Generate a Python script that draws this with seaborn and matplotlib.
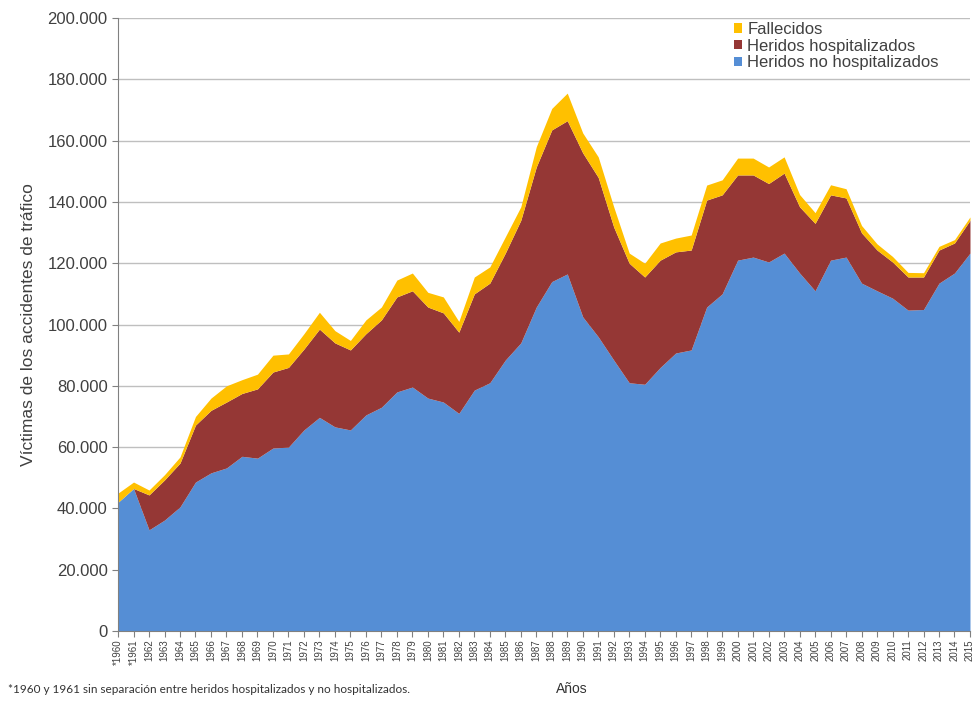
import matplotlib.pyplot as plt
import matplotlib.ticker as mticker
import numpy as np
import seaborn as sns

# Data (victims per year)
years = list(range(1960, 2016))
year_labels = ['*1960', '*1961'] + [str(y) for y in range(1962, 2016)]

no_hospitalizados = [
    42000, 46500, 33000, 36200, 40500, 48600, 51600, 53200, 57000, 56400,
    59700, 60000, 65600, 69700, 66600, 65600, 70500, 73000, 78000, 79600,
    76000, 74700, 71000, 78600, 81000, 88400, 94000, 105700, 114000, 116500,
    102500, 96000, 88400, 81000, 80500, 86000, 90700, 91700, 105700, 110000,
    121000, 122000, 120400, 123300, 116800, 111000, 121000, 122000, 113500, 111000,
    108600, 104700, 104900, 113500, 116800, 123300]

hospitalizados = [
    0, 0, 11400, 13100, 14300, 18600, 20400, 21500, 20500, 22600,
    24800, 26000, 26400, 28800, 27400, 26100, 26500, 28500, 31000, 31400,
    29700, 29100, 26500, 31400, 32500, 34900, 40000, 45700, 49500, 50000,
    53500, 52000, 43400, 39000, 35000, 35000, 33000, 32600, 34900, 32300,
    27800, 26800, 25600, 26100, 21600, 22000, 21300, 19300, 16400, 13300,
    11800, 10800, 10600, 10800, 9800, 10700]

fallecidos = [
    3000, 2100, 1600, 1700, 2000, 2800, 4000, 5300, 4500, 4800,
    5500, 4400, 5000, 5500, 4000, 3100, 4500, 4200, 5500, 5800,
    4800, 5200, 3500, 5500, 5300, 5300, 4400, 6600, 7000, 9000,
    6500, 6700, 6600, 3300, 4500, 5600, 4500, 4900, 4900, 4900,
    5500, 5500, 5400, 5300, 4000, 3500, 3300, 3000, 2400, 2000,
    1800, 1500, 1400, 1200, 1100, 1100]

series_names = ['Heridos no hospitalizados', 'Heridos hospitalizados', 'Fallecidos']
colors = ['#558ED5', '#953735', '#FFC000']

sns.set_style('white')
plt.rcParams['font.family'] = ['Liberation Sans', 'DejaVu Sans']

fig = plt.figure(figsize=(9.78, 7.07), dpi=100)
ax = fig.add_axes([0.1207, 0.1075, 0.8711, 0.867])

x = np.arange(len(years))
ax.stackplot(x, no_hospitalizados, hospitalizados, fallecidos,
             colors=colors, labels=series_names, linewidth=0, zorder=2)

# axes
ax.set_xlim(0, len(years) - 1)
ax.set_ylim(0, 200000)
ax.yaxis.set_major_locator(mticker.MultipleLocator(20000))
ax.yaxis.set_major_formatter(mticker.FuncFormatter(
    lambda v, p: f'{v:,.0f}'.replace(',', '.')))
ax.grid(axis='y', color='#BFBFBF', linewidth=1, zorder=0)
ax.set_axisbelow(True)

ax.set_xticks(x)
ax.set_xticklabels(year_labels, rotation=90, fontsize=7, color='#404040')
ax.tick_params(axis='x', length=4, width=0.8, color='#808080', pad=2, bottom=True)
ax.tick_params(axis='y', length=4, width=0.8, color='#808080', labelsize=12,
               labelcolor='#404040', left=True)

sns.despine(ax=ax, top=True, right=True)
ax.spines['left'].set_color('#808080')
ax.spines['bottom'].set_color('#808080')

ax.set_ylabel('Víctimas de los accidentes de tráfico', fontsize=12.5,
              color='#404040', labelpad=8)

# legend, reverse order like the reference
handles, labels = ax.get_legend_handles_labels()
leg = ax.legend(handles[::-1], labels[::-1], loc='upper right',
                bbox_to_anchor=(0.975, 1.01), frameon=False, fontsize=12,
                handlelength=0.5, handleheight=0.5, handletextpad=0.3,
                labelspacing=0.1, borderaxespad=0.2)
for t in leg.get_texts():
    t.set_color('#404040')

# footnote and axis title
fig.text(0.008, 0.02, '*1960 y 1961 sin separación entre heridos hospitalizados y no hospitalizados.',
         fontsize=8.5, family=['Lato', 'DejaVu Sans'], color='#333333')
fig.text(0.568, 0.02, 'Años', fontsize=10, color='#333333')

fig.savefig('out.png', dpi=100)
